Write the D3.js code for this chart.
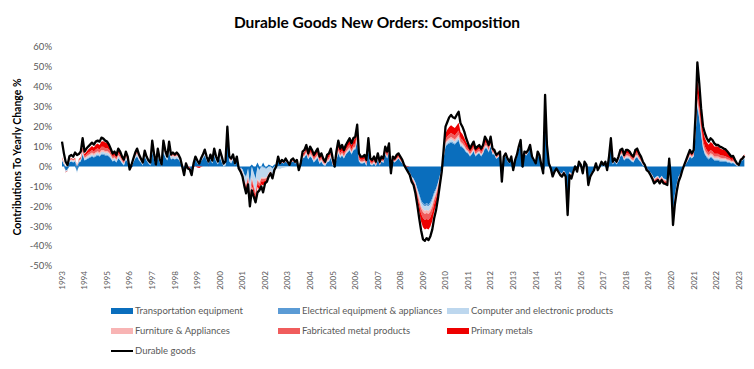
<!DOCTYPE html>
<html><head><meta charset="utf-8">
<script src="https://cdn.jsdelivr.net/npm/d3@7"></script>
<style>
body{margin:0;background:#fff}
svg{display:block}
text{font-family:Lato,"Open Sans",sans-serif}
</style>
</head><body>
<svg id="chart" width="754" height="369"></svg>
<script>
// ---------------- data (monthly, Jan 1993 .. Apr 2023, % contribution) ----------------
const firstMonth = "1993-01";
const yearLabels = ["1993","1994","1995","1996","1997","1998","1999","2000","2001","2002","2003","2004","2005","2006","2007","2008","2009","2010","2011","2012","2013","2014","2015","2016","2017","2018","2019","2020","2021","2022","2023"];
const yTicks = [-50,-40,-30,-20,-10,0,10,20,30,40,50,60];
const seriesNames = ["Transportation equipment","Electrical equipment & appliances","Computer and electronic products","Furniture & Appliances","Fabricated metal products","Primary metals"];
const lineName = "Durable goods";

const durableGoods = [
12.5,6.6,2.4,0.7,5.2,5.8,4.9,7.0,5.8,6.3,7.5,14.2,
7.5,9.0,10.0,11.0,12.0,11.0,12.5,13.0,12.5,14.5,14.0,13.0,
12.5,11.0,9.0,6.5,7.5,5.8,9.0,7.5,5.0,3.5,7.5,5.0,
-1.5,1.0,4.0,7.0,9.0,6.0,4.0,2.0,8.0,5.0,3.0,2.0,
13.0,6.0,1.0,9.0,4.0,1.0,13.0,8.0,5.0,12.5,6.0,7.0,
6.0,7.0,6.0,4.0,0.0,-4.3,1.6,-1.0,-1.5,-4.3,1.6,5.0,
3.0,1.5,4.0,6.0,8.5,5.0,2.5,6.0,3.0,9.0,5.0,2.5,
8.3,5.0,1.5,2.5,20.0,5.0,4.0,6.0,1.6,5.0,-1.0,-2.6,
-5.0,-10.0,-13.5,-9.0,-20.0,-12.0,-15.0,-18.0,-13.0,-12.0,-10.0,-13.0,
-8.5,-7.6,-5.1,-3.4,-6.0,-1.8,0.0,5.0,1.6,3.3,2.4,4.0,
2.4,0.8,3.3,4.0,2.4,3.3,-1.8,1.6,7.5,8.3,10.8,6.6,
10.0,8.3,5.8,7.5,9.0,5.0,6.6,4.0,2.4,5.8,6.6,9.0,
4.0,0.0,7.5,13.0,9.0,10.8,8.3,10.8,12.5,14.2,11.6,14.2,
15.0,21.0,6.6,5.0,5.0,5.8,3.3,14.2,4.0,3.3,5.0,2.4,
6.6,2.4,5.0,4.0,10.0,7.5,11.6,-3.4,5.0,4.0,5.8,6.6,
5.0,3.3,0.8,-1.0,-2.6,-4.3,-7.6,-9.3,-13.5,-19.3,-26.0,-32.0,
-36.6,-37.3,-36.0,-37.0,-35.0,-31.6,-26.0,-21.9,-16.0,-9.3,-2.6,8.3,
20.0,22.5,24.7,25.9,24.7,24.2,25.9,27.5,21.7,20.0,17.5,14.2,
11.6,9.0,10.8,12.5,9.0,10.0,10.8,9.0,10.8,15.0,13.3,10.8,
15.0,9.0,8.3,5.8,6.6,7.5,-7.6,5.0,6.6,4.0,2.4,5.0,
-1.8,3.3,5.8,10.0,13.3,0.0,7.5,7.0,8.3,10.8,5.0,3.3,
1.6,7.5,5.8,0.8,-3.4,36.0,10.8,1.6,-1.0,-5.0,-2.6,-1.0,
-2.6,-4.3,-5.1,-3.4,-5.1,-24.4,-4.3,-6.0,-2.6,0.0,-2.6,2.4,
0.8,-3.4,2.4,0.8,-9.3,-5.1,-3.4,-1.8,1.6,-1.8,0.0,2.4,
0.8,2.4,-1.8,5.0,14.2,2.4,4.0,2.4,5.0,8.3,9.0,5.8,
8.3,8.3,7.5,5.8,5.0,8.3,9.0,6.6,5.0,2.4,0.8,-1.8,
-2.6,-4.3,-6.0,-8.5,-7.6,-6.8,-8.5,-6.8,-8.5,-8.8,-9.3,4.0,
-8.5,-29.4,-19.3,-12.6,-7.6,-5.1,-1.8,0.8,3.3,5.8,8.3,6.6,
8.3,26.7,52.3,41.8,29.2,20.0,16.7,14.2,12.5,14.2,13.3,11.6,
10.8,10.8,10.0,9.6,9.0,8.6,7.5,6.3,5.0,5.3,3.3,1.6,
0.8,3.3,4.0,5.3];

const transportation = [
3.0,1.0,-2.0,-1.5,2.0,2.5,2.0,2.5,-2.5,2.0,2.5,6.0,
3.0,3.5,4.0,4.5,5.0,4.5,5.0,5.5,5.0,6.0,6.0,5.5,
5.5,5.0,4.0,2.5,3.0,2.0,4.0,3.0,1.5,0.5,3.5,2.0,
-0.8,-0.5,2.0,4.0,5.0,3.0,2.0,0.5,5.0,3.0,1.5,0.5,
7.0,3.0,0.0,5.0,2.0,0.0,7.0,4.5,3.0,7.0,3.5,4.0,
3.5,4.0,3.5,2.0,-0.5,-2.0,1.5,0.0,-0.5,-2.0,1.5,3.5,
1.5,1.0,2.5,4.0,5.5,3.0,1.5,3.5,1.5,5.5,2.5,1.0,
4.5,2.0,0.0,0.5,14.0,2.5,1.5,3.5,0.5,3.0,-0.5,-1.0,
-1.3,-4.0,-5.0,-1.0,-9.0,1.0,-3.0,-6.0,2.0,-1.7,0.0,2.0,
-0.6,-0.7,1.0,0.5,-1.0,1.0,1.0,4.0,1.0,2.0,1.5,2.5,
1.5,0.5,2.0,2.5,1.5,2.0,-1.0,1.0,4.0,4.5,6.0,3.5,
5.0,4.0,2.0,3.2,4.3,1.3,2.4,0.8,0.3,2.0,2.4,4.4,
0.5,-0.5,3.3,6.5,4.3,5.5,4.0,6.0,7.0,8.0,6.0,8.0,
8.5,13.0,2.5,1.5,1.5,2.0,0.3,8.0,0.9,0.5,1.5,0.1,
3.5,0.5,2.5,1.8,6.0,4.0,7.0,-2.4,2.5,2.0,3.0,4.0,
2.7,1.5,0.0,-1.0,-2.0,-3.0,-5.0,-6.0,-8.0,-11.0,-14.0,-17.0,
-18.5,-19.0,-18.5,-19.0,-18.0,-16.0,-13.0,-11.0,-8.0,-4.5,-1.0,4.0,
10.0,11.0,11.5,12.0,11.5,11.0,12.0,13.0,10.0,9.5,8.5,7.0,
6.5,5.0,6.0,7.5,5.0,6.0,6.5,5.0,6.5,9.0,9.0,7.0,
10.0,6.0,6.0,3.8,4.5,5.5,-6.0,4.0,5.0,2.7,1.5,4.0,
-1.6,2.5,4.5,8.5,10.5,-0.5,6.0,5.5,7.0,9.5,4.0,2.5,
1.0,6.0,4.5,0.0,-3.5,32.0,9.0,1.0,-1.0,-4.0,-2.0,-1.0,
-2.0,-3.0,-3.5,-2.0,-3.5,-20.0,-2.5,-3.6,-1.5,0.5,-1.5,2.0,
0.5,-2.5,2.0,0.5,-6.7,-4.0,-2.5,-1.0,1.0,-1.5,0.0,1.5,
0.0,1.5,-1.5,3.0,10.5,1.0,2.5,1.0,2.5,5.0,5.5,3.0,
4.0,4.0,3.5,2.5,2.0,4.0,4.5,3.0,2.0,0.5,-0.5,-2.0,
-1.7,-3.0,-4.1,-6.0,-5.1,-4.6,-6.0,-4.6,-6.0,-6.3,-6.8,2.5,
-6.4,-23.3,-14.3,-8.9,-5.0,-3.4,-1.5,0.0,1.5,3.0,5.0,4.0,
5.0,16.5,30.0,24.0,16.0,9.0,6.0,4.5,3.5,4.5,4.0,3.0,
3.0,3.0,2.5,2.5,2.5,2.5,2.0,2.0,1.5,1.7,1.0,0.3,
0.0,2.5,3.0,4.0];

const electrical = [
0.2,0.2,0.1,0.1,0.2,0.2,0.3,0.3,0.2,0.3,0.3,0.4,
0.3,0.3,0.4,0.4,0.4,0.4,0.5,0.5,0.4,0.5,0.5,0.5,
0.5,0.4,0.4,0.3,0.3,0.3,0.3,0.3,0.2,0.2,0.3,0.2,
0.1,0.1,0.2,0.3,0.3,0.3,0.2,0.2,0.3,0.3,0.2,0.2,
0.4,0.3,0.2,0.3,0.3,0.2,0.4,0.3,0.3,0.4,0.3,0.3,
0.3,0.3,0.3,0.2,0.1,0.0,0.1,0.0,0.0,-0.1,0.1,0.2,
0.2,0.1,0.2,0.2,0.3,0.2,0.2,0.3,0.2,0.3,0.2,0.2,
0.4,0.3,0.2,0.3,0.5,0.3,0.3,0.3,0.2,0.2,0.0,-0.1,
-0.3,-0.4,-0.5,-0.5,-0.7,-0.6,-0.6,-0.7,-0.6,-0.6,-0.5,-0.5,
-0.5,-0.4,-0.3,-0.3,-0.3,-0.2,-0.1,0.0,0.0,0.0,0.1,0.1,
0.0,0.0,0.1,0.1,0.1,0.1,0.0,0.1,0.2,0.2,0.3,0.2,
0.3,0.3,0.3,0.3,0.3,0.3,0.3,0.2,0.2,0.3,0.3,0.3,
0.2,0.2,0.3,0.4,0.3,0.3,0.3,0.3,0.4,0.4,0.4,0.4,
0.4,0.5,0.3,0.3,0.3,0.3,0.3,0.4,0.3,0.3,0.3,0.2,
0.3,0.2,0.2,0.2,0.3,0.3,0.3,0.1,0.2,0.2,0.2,0.2,
0.2,0.1,0.1,0.0,0.0,-0.1,-0.2,-0.3,-0.4,-0.6,-0.8,-1.0,
-1.0,-1.1,-1.1,-1.1,-1.0,-1.0,-0.9,-0.8,-0.6,-0.4,-0.2,0.2,
0.5,0.6,0.6,0.7,0.7,0.6,0.7,0.7,0.6,0.6,0.5,0.5,
0.4,0.4,0.4,0.4,0.4,0.4,0.4,0.4,0.4,0.5,0.4,0.4,
0.4,0.3,0.3,0.2,0.2,0.2,0.0,0.2,0.2,0.2,0.1,0.2,
0.0,0.1,0.2,0.2,0.3,0.1,0.2,0.2,0.2,0.3,0.2,0.2,
0.1,0.2,0.2,0.1,0.0,0.3,0.2,0.1,0.1,0.0,0.0,0.0,
-0.1,-0.2,-0.2,-0.2,-0.2,-0.4,-0.2,-0.3,-0.2,-0.1,-0.2,0.0,
0.0,-0.2,0.0,0.0,-0.3,-0.2,-0.2,-0.1,0.0,-0.1,0.0,0.1,
0.1,0.1,0.0,0.2,0.3,0.2,0.2,0.2,0.3,0.4,0.4,0.3,
0.4,0.4,0.4,0.3,0.3,0.4,0.4,0.3,0.3,0.2,0.1,0.0,
-0.1,-0.1,-0.2,-0.2,-0.2,-0.2,-0.2,-0.2,-0.2,-0.2,-0.2,0.1,
-0.2,-0.6,-0.5,-0.4,-0.3,-0.2,0.0,0.0,0.1,0.2,0.2,0.2,
0.3,0.6,0.9,0.8,0.7,0.6,0.5,0.5,0.5,0.5,0.5,0.5,
0.5,0.5,0.5,0.5,0.4,0.4,0.4,0.4,0.3,0.3,0.3,0.2,
0.2,0.2,0.2,0.2];

const computer = [
0.5,0.3,-0.8,-0.6,0.5,0.6,0.5,0.6,-1.0,0.5,0.6,1.0,
0.6,0.7,0.7,0.8,0.8,0.8,0.9,0.9,0.8,0.9,0.9,0.9,
1.0,1.0,0.9,0.8,0.9,0.8,1.0,0.9,0.8,0.7,0.9,0.8,
-0.5,0.3,0.6,0.9,1.0,0.8,0.7,0.5,1.0,0.8,0.6,0.6,
1.4,1.0,0.5,1.2,0.8,0.5,1.5,1.2,1.0,1.4,1.0,1.0,
0.9,1.0,0.9,0.7,0.4,0.0,0.4,0.2,0.1,-0.2,0.4,0.7,
0.6,0.5,0.7,0.8,1.0,0.8,0.6,0.9,0.7,1.1,0.9,0.7,
1.3,1.1,0.8,0.9,1.6,1.0,0.9,1.0,0.6,0.8,0.3,0.0,
-1.5,-2.5,-3.5,-3.5,-5.0,-5.0,-5.5,-6.0,-5.5,-5.5,-5.0,-5.0,
-4.5,-4.0,-3.0,-2.0,-3.0,-1.2,-1.0,-1.0,-1.2,-0.8,-0.6,-0.4,
-0.3,-0.3,-0.1,0.0,0.0,0.1,-0.2,0.1,0.4,0.5,0.6,0.4,
0.6,0.6,0.5,0.6,0.6,0.5,0.5,0.4,0.3,0.4,0.5,0.5,
0.3,0.1,0.4,0.6,0.5,0.5,0.4,0.5,0.5,0.6,0.5,0.5,
0.5,0.7,0.3,0.3,0.3,0.3,0.2,0.5,0.2,0.2,0.3,0.2,
0.3,0.1,0.2,0.2,0.4,0.3,0.4,-0.2,0.2,0.2,0.2,0.2,
0.1,0.1,0.0,-0.1,-0.2,-0.3,-0.4,-0.5,-0.7,-1.0,-1.4,-1.7,
-2.0,-2.2,-2.2,-2.2,-2.1,-1.9,-1.6,-1.3,-1.0,-0.6,-0.2,0.4,
0.9,1.0,1.1,1.1,1.0,1.0,1.0,1.1,0.9,0.8,0.7,0.6,
0.5,0.4,0.5,0.5,0.4,0.4,0.4,0.4,0.4,0.5,0.5,0.4,
0.5,0.3,0.3,0.2,0.2,0.3,-0.2,0.2,0.2,0.1,0.1,0.2,
0.0,0.1,0.2,0.3,0.3,0.0,0.2,0.2,0.2,0.3,0.2,0.1,
0.1,0.2,0.2,0.1,0.0,0.5,0.3,0.1,0.0,-0.1,-0.1,0.0,
-0.1,-0.2,-0.2,-0.1,-0.2,-0.8,-0.2,-0.3,-0.1,0.0,-0.1,0.1,
0.0,-0.1,0.1,0.0,-0.4,-0.2,-0.2,-0.1,0.1,-0.1,0.0,0.1,
0.1,0.1,-0.1,0.2,0.5,0.2,0.2,0.2,0.3,0.4,0.4,0.3,
0.5,0.5,0.5,0.4,0.4,0.5,0.5,0.4,0.3,0.2,0.1,0.0,
-0.1,-0.2,-0.2,-0.3,-0.3,-0.3,-0.3,-0.3,-0.3,-0.3,-0.3,0.2,
-0.3,-1.0,-0.8,-0.6,-0.4,-0.3,-0.1,0.0,0.2,0.3,0.4,0.3,
0.4,0.9,1.2,1.0,0.9,0.8,0.8,0.7,0.7,0.8,0.8,0.7,
0.7,0.7,0.7,0.6,0.6,0.6,0.5,0.5,0.4,0.4,0.3,0.2,
0.1,0.2,0.2,0.3];

const furniture = [
0.3,0.2,0.0,0.0,0.3,0.3,0.3,0.3,0.1,0.3,0.3,0.5,
0.5,0.6,0.7,0.7,0.8,0.7,0.8,0.8,0.8,0.9,0.9,0.8,
0.8,0.7,0.6,0.5,0.5,0.4,0.5,0.4,0.3,0.2,0.4,0.3,
0.0,0.1,0.2,0.4,0.5,0.4,0.3,0.2,0.5,0.4,0.3,0.3,
0.6,0.4,0.2,0.5,0.3,0.2,0.6,0.5,0.4,0.6,0.4,0.4,
0.4,0.4,0.4,0.3,0.2,0.0,0.2,0.1,0.1,0.0,0.2,0.3,
0.3,0.2,0.3,0.4,0.5,0.4,0.3,0.4,0.3,0.5,0.4,0.3,
0.5,0.4,0.3,0.3,0.6,0.3,0.3,0.3,0.2,0.3,0.1,0.0,
-0.3,-0.5,-0.6,-0.5,-0.9,-0.7,-0.8,-0.9,-0.8,-0.8,-0.7,-0.8,
-0.6,-0.5,-0.4,-0.3,-0.4,-0.2,-0.1,0.2,0.1,0.2,0.2,0.2,
0.2,0.1,0.2,0.2,0.2,0.2,0.0,0.1,0.4,0.4,0.5,0.4,
0.7,0.6,0.6,0.6,0.7,0.5,0.6,0.5,0.4,0.5,0.6,0.7,
0.4,0.2,0.5,0.7,0.6,0.6,0.5,0.6,0.7,0.7,0.6,0.7,
0.7,0.8,0.4,0.4,0.4,0.4,0.3,0.6,0.3,0.3,0.4,0.2,
0.3,0.1,0.2,0.2,0.4,0.3,0.4,-0.2,0.2,0.2,0.2,0.2,
0.2,0.1,0.0,-0.1,-0.2,-0.3,-0.4,-0.5,-0.7,-0.9,-1.2,-1.4,
-1.5,-1.6,-1.6,-1.6,-1.5,-1.4,-1.2,-1.0,-0.8,-0.5,-0.2,0.3,
0.8,0.9,1.0,1.0,1.0,1.0,1.0,1.1,0.9,0.8,0.7,0.6,
0.5,0.5,0.5,0.6,0.5,0.5,0.5,0.5,0.5,0.6,0.6,0.5,
0.6,0.4,0.4,0.3,0.3,0.4,0.0,0.3,0.3,0.2,0.2,0.3,
0.1,0.2,0.3,0.4,0.4,0.1,0.3,0.3,0.3,0.4,0.3,0.2,
0.2,0.3,0.3,0.2,0.1,0.5,0.3,0.2,0.1,-0.1,0.0,0.0,
-0.1,-0.2,-0.3,-0.2,-0.3,-0.6,-0.3,-0.4,-0.2,-0.1,-0.2,0.1,
0.0,-0.2,0.1,0.0,-0.4,-0.3,-0.2,-0.1,0.1,-0.1,0.0,0.1,
0.1,0.2,0.0,0.3,0.5,0.3,0.3,0.3,0.4,0.5,0.5,0.4,
0.6,0.6,0.6,0.5,0.5,0.6,0.6,0.5,0.4,0.3,0.2,0.0,
-0.1,-0.2,-0.3,-0.4,-0.4,-0.3,-0.4,-0.3,-0.4,-0.4,-0.4,0.2,
-0.3,-0.8,-0.7,-0.5,-0.4,-0.2,0.0,0.1,0.3,0.4,0.5,0.4,
0.5,1.2,1.6,1.4,1.2,1.0,1.0,0.9,0.9,0.9,0.9,0.8,
0.8,0.8,0.8,0.7,0.7,0.6,0.6,0.5,0.4,0.4,0.3,0.2,
0.1,0.2,0.2,0.3];

const fabricatedMetal = [
0.4,0.2,0.0,0.0,0.3,0.4,0.3,0.4,0.2,0.4,0.5,0.8,
0.8,1.0,1.1,1.2,1.3,1.2,1.4,1.5,1.4,1.6,1.6,1.5,
1.5,1.4,1.2,0.9,1.0,0.8,1.1,0.9,0.7,0.5,0.9,0.7,
0.0,0.2,0.4,0.7,0.8,0.6,0.5,0.3,0.8,0.6,0.4,0.4,
1.1,0.7,0.3,0.9,0.5,0.3,1.1,0.8,0.6,1.1,0.7,0.7,
0.7,0.7,0.6,0.5,0.3,0.0,0.2,0.1,0.0,-0.2,0.2,0.5,
0.3,0.2,0.3,0.5,0.6,0.4,0.3,0.5,0.3,0.7,0.5,0.3,
0.8,0.6,0.4,0.4,1.0,0.5,0.5,0.5,0.3,0.4,0.1,-0.1,
-0.6,-0.9,-1.1,-1.0,-1.6,-1.3,-1.4,-1.6,-1.4,-1.4,-1.2,-1.3,
-1.0,-0.9,-0.7,-0.5,-0.6,-0.3,-0.2,0.3,0.1,0.2,0.2,0.3,
0.2,0.1,0.2,0.3,0.2,0.3,0.0,0.2,0.6,0.7,0.8,0.6,
1.0,1.0,0.9,1.0,1.1,0.9,1.0,0.8,0.7,0.9,1.0,1.1,
1.0,0.2,1.1,1.4,1.2,1.2,1.1,1.2,1.3,1.4,1.2,1.3,
1.6,1.8,1.0,0.9,0.9,1.0,0.8,1.4,0.8,0.7,0.9,0.6,
0.8,0.4,0.7,0.6,1.0,0.8,1.0,-0.2,0.6,0.6,0.7,0.7,
0.6,0.4,0.2,0.0,-0.2,-0.4,-0.7,-0.9,-1.3,-1.7,-2.2,-2.6,
-2.9,-3.0,-3.0,-3.0,-2.9,-2.7,-2.3,-2.0,-1.6,-1.0,-0.4,0.5,
1.5,1.7,1.9,2.0,2.0,2.0,2.1,2.2,1.8,1.7,1.5,1.3,
1.1,1.0,1.1,1.2,1.0,1.0,1.1,1.0,1.1,1.4,1.3,1.1,
1.3,0.8,0.8,0.6,0.6,0.7,0.0,0.5,0.6,0.4,0.3,0.5,
0.1,0.3,0.4,0.6,0.7,0.1,0.5,0.5,0.5,0.6,0.4,0.3,
0.2,0.5,0.4,0.2,0.0,0.9,0.6,0.2,0.1,-0.1,0.0,0.0,
-0.2,-0.3,-0.4,-0.3,-0.4,-1.0,-0.4,-0.5,-0.3,-0.1,-0.3,0.1,
0.0,-0.3,0.1,0.0,-0.6,-0.4,-0.3,-0.2,0.1,-0.2,0.0,0.2,
0.1,0.3,0.0,0.5,0.9,0.4,0.5,0.4,0.6,0.8,0.8,0.6,
1.0,1.0,1.0,0.9,0.8,1.0,1.1,0.9,0.7,0.4,0.2,0.0,
-0.2,-0.3,-0.4,-0.6,-0.6,-0.5,-0.6,-0.5,-0.6,-0.6,-0.6,0.3,
-0.5,-1.5,-1.2,-0.9,-0.6,-0.4,-0.1,0.1,0.3,0.5,0.7,0.6,
0.8,2.0,3.0,2.6,2.2,1.9,1.7,1.6,1.5,1.6,1.5,1.4,
1.4,1.4,1.3,1.2,1.2,1.1,1.0,0.9,0.7,0.7,0.5,0.3,
0.1,0.3,0.3,0.4];

const primaryMetals = [
0.2,0.1,-0.2,-0.2,0.2,0.3,0.2,0.3,0.0,0.3,0.4,0.8,
1.0,1.3,1.6,1.8,2.0,2.0,2.3,2.4,2.4,2.7,2.8,2.8,
2.8,2.6,2.2,1.7,1.8,1.4,1.8,1.5,1.1,0.8,1.3,1.0,
-0.4,-0.2,0.2,0.5,0.7,0.4,0.3,0.1,0.6,0.4,0.2,0.2,
1.2,0.7,0.2,0.9,0.5,0.2,1.2,0.9,0.6,1.2,0.7,0.8,
0.6,0.6,0.5,0.2,-0.2,-0.6,-0.3,-0.5,-0.6,-0.9,-0.4,0.0,
-0.5,-0.7,-0.3,0.0,0.3,0.1,-0.1,0.3,0.1,0.6,0.4,0.2,
0.9,0.6,0.2,0.3,1.0,0.4,0.3,0.4,0.0,0.2,-0.4,-0.6,
-1.0,-1.4,-1.7,-1.5,-2.2,-1.8,-2.0,-2.2,-1.9,-1.9,-1.7,-1.8,
-1.3,-1.1,-0.8,-0.5,-0.7,-0.2,0.0,0.5,0.3,0.4,0.4,0.5,
0.3,0.1,0.3,0.3,0.2,0.3,-0.2,0.1,0.8,0.9,1.3,1.0,
1.6,1.6,1.5,1.7,1.9,1.6,1.8,1.5,0.8,1.7,1.8,2.0,
1.6,0.3,1.8,2.4,2.0,2.1,1.8,2.0,2.1,2.2,1.9,2.1,
2.6,3.0,1.8,1.6,1.6,1.8,1.4,2.4,1.5,1.3,1.6,1.1,
1.4,0.8,1.2,1.0,1.6,1.2,1.6,-0.4,1.0,0.9,1.0,1.1,
1.2,1.0,0.7,0.4,0.2,0.0,-0.4,-0.8,-1.5,-2.3,-3.2,-4.0,
-4.6,-4.8,-4.8,-4.8,-4.6,-4.3,-3.7,-3.2,-2.5,-1.6,-0.6,1.2,
3.0,3.4,3.7,3.9,3.8,3.7,3.8,3.9,3.2,2.9,2.6,2.2,
1.9,1.6,1.8,2.0,1.6,1.7,1.8,1.6,1.8,2.3,2.1,1.8,
2.0,1.2,1.1,0.7,0.8,0.9,-0.3,0.6,0.7,0.4,0.2,0.5,
-0.2,0.2,0.3,0.6,0.8,-0.2,0.4,0.4,0.4,0.6,0.3,0.2,
0.1,0.5,0.4,0.2,0.0,1.0,0.6,0.2,0.1,-0.2,-0.1,-0.1,
-0.4,-0.6,-0.7,-0.6,-0.7,-1.6,-0.8,-0.9,-0.6,-0.3,-0.5,0.0,
-0.2,-0.5,0.0,-0.1,-0.9,-0.6,-0.4,-0.2,0.2,-0.1,0.1,0.3,
0.3,0.5,0.1,0.8,1.3,0.6,0.8,0.6,0.9,1.2,1.3,1.0,
1.6,1.7,1.7,1.5,1.4,1.7,1.8,1.5,1.2,0.7,0.3,-0.1,
-0.4,-0.6,-0.8,-1.0,-1.0,-0.9,-1.0,-0.9,-1.0,-1.0,-1.0,0.3,
-0.8,-2.2,-1.8,-1.3,-0.9,-0.6,-0.2,0.1,0.4,0.7,1.0,0.9,
1.5,4.0,7.0,6.5,5.5,4.8,4.3,4.0,3.8,4.0,3.9,3.7,
3.6,3.6,3.4,3.2,3.0,2.8,2.5,2.2,1.8,1.8,1.0,0.5,
0.3,0.6,0.7,0.9];

const seriesColors = ["#0a6ebd","#5b9bd5","#bdd7ee","#f8b4b4","#f05c5c","#ee0000"];

// ---------------- build table ----------------
const seriesData = [transportation, electrical, computer, furniture, fabricatedMetal, primaryMetals];
const start = d3.timeParse("%Y-%m")(firstMonth);
const table = durableGoods.map((v, i) => {
  const row = {date: d3.timeMonth.offset(start, i), total: v};
  seriesNames.forEach((k, j) => row[k] = seriesData[j][i]);
  return row;
});

// ---------------- layout ----------------
const svg = d3.select("#chart");
const x = d3.scaleTime()
  .domain([new Date(1993,0,1), new Date(2023,0,1)])
  .range([62, 738.8]);
const y = d3.scaleLinear().domain([-50, 60]).range([266, 47.1]);

// title
svg.append("text").attr("x", 377).attr("y", 28)
  .attr("text-anchor","middle").attr("font-weight","bold")
  .attr("font-size", 15.5).attr("fill","#000")
  .text("Durable Goods New Orders: Composition");

// y axis title
svg.append("text")
  .attr("transform","translate(21,157) rotate(-90)")
  .attr("text-anchor","middle").attr("font-weight","bold")
  .attr("font-size", 10.5).attr("fill","#000")
  .text("Contributions To Yearly Change %");

// y tick labels
svg.append("g").selectAll("text").data(yTicks).join("text")
  .attr("x", 52).attr("y", d => y(d)).attr("dy","0.35em")
  .attr("text-anchor","end").attr("font-size", 9.5).attr("fill","#595959")
  .text(d => d + "%");

// x tick labels
svg.append("g").selectAll("text").data(yearLabels).join("text")
  .attr("transform", d => `translate(${x(new Date(+d,0,1))},271) rotate(-90)`)
  .attr("dy","0.35em").attr("text-anchor","end")
  .attr("font-size", 8.1).attr("fill","#595959")
  .text(d => d);

// stacked areas
const stack = d3.stack().keys(seriesNames).offset(d3.stackOffsetDiverging);
const layers = stack(table);
const area = d3.area()
  .x(d => x(d.data.date))
  .y0(d => y(d[0]))
  .y1(d => y(d[1]));
svg.append("g").selectAll("path").data(layers).join("path")
  .attr("d", area)
  .attr("fill", (d, i) => seriesColors[i]);

// durable goods line
const line = d3.line().x(d => x(d.date)).y(d => y(d.total));
svg.append("path").datum(table)
  .attr("d", line).attr("fill","none")
  .attr("stroke","#000").attr("stroke-width", 2.3)
  .attr("stroke-linejoin","round");

// legend
const legendItems = seriesNames.map((n, i) => ({name: n, color: seriesColors[i], type: "area"}))
  .concat([{name: lineName, color: "#000", type: "line"}]);
const colX = [111, 278, 447];
const rowY = [311, 331, 351];
const lg = svg.append("g");
legendItems.forEach((it, i) => {
  const cx = colX[i % 3], cy = rowY[Math.floor(i / 3)];
  if (it.type === "area") {
    lg.append("rect").attr("x", cx).attr("y", cy - 3).attr("width", 22).attr("height", 6).attr("fill", it.color);
  } else {
    lg.append("line").attr("x1", cx).attr("x2", cx + 22).attr("y1", cy).attr("y2", cy)
      .attr("stroke", "#000").attr("stroke-width", 2);
  }
  lg.append("text").attr("x", cx + 24).attr("y", cy).attr("dy","0.35em")
    .attr("font-size", 9.5).attr("fill","#595959").text(it.name);
});
</script>
</body></html>
